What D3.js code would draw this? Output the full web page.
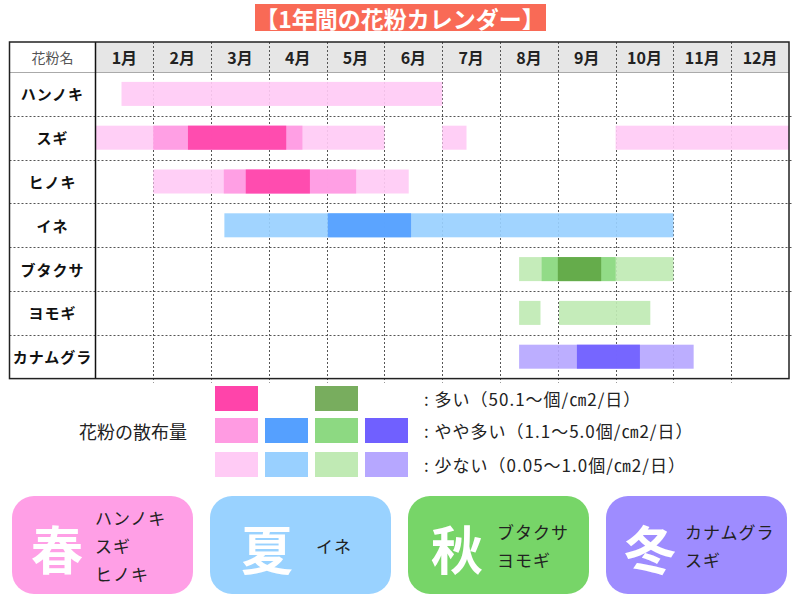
<!DOCTYPE html>
<html>
<head>
<meta charset="utf-8">
<script src="https://cdn.jsdelivr.net/npm/d3@7"></script>
<style>
  body { margin: 0; background: #fff; }
  svg { font-family: "Noto Sans CJK JP", "Noto Sans", sans-serif; }
</style>
</head>
<body>
<svg id="chart" width="800" height="600"></svg>
<script>
const months = ['1月', '2月', '3月', '4月', '5月', '6月', '7月', '8月', '9月', '10月', '11月', '12月'];
const plants = ['ハンノキ', 'スギ', 'ヒノキ', 'イネ', 'ブタクサ', 'ヨモギ', 'カナムグラ'];
const plantFamily = ['pink', 'pink', 'pink', 'blue', 'green', 'green', 'purple'];

// periods in months from Jan 1 (0) to Dec 31 (12): [plant, start, end]
const lowPeriods = [
  ['ハンノキ', 0.45, 6.0],
  ['スギ', 0, 5.0], ['スギ', 6.0, 6.42], ['スギ', 9.0, 12],
  ['ヒノキ', 1.0, 5.42],
  ['イネ', 2.23, 10.0],
  ['ブタクサ', 7.33, 10.0],
  ['ヨモギ', 7.33, 7.7], ['ヨモギ', 8.02, 9.6],
  ['カナムグラ', 7.33, 10.35]
];
const midPeriods = [
  ['スギ', 1.0, 3.58],
  ['ヒノキ', 2.22, 4.51],
  ['イネ', 4.02, 5.46],
  ['ブタクサ', 7.72, 9.0],
  ['カナムグラ', 8.33, 9.42]
];
const highPeriods = [
  ['スギ', 1.6, 3.3],
  ['ヒノキ', 2.6, 3.71],
  ['ブタクサ', 8.0, 8.75]
];

const levelNames = ['low', 'mid', 'high'];
const legendLabels = {
  high: ': 多い（50.1～個/㎝2/日）',
  mid: ': やや多い（1.1～5.0個/㎝2/日）',
  low: ': 少ない（0.05～1.0個/㎝2/日）'
};

const palette = {
  pink: { low: '#FFCBF5', mid: '#FF9BE2', high: '#FF44AA' },
  blue: { low: '#99D0FF', mid: '#55A0FF' },
  green: { low: '#C0EAB4', mid: '#8DD982', high: '#62A845' },
  purple: { low: '#B6A7FF', mid: '#7060FF' }
};
const families = ['pink', 'blue', 'green', 'purple'];

const seasons = ['春', '夏', '秋', '冬'];
const seasonPlants = [['ハンノキ', 'スギ', 'ヒノキ'], ['イネ'], ['ブタクサ', 'ヨモギ'], ['カナムグラ', 'スギ']];
const seasonColors = ['#FF9FE6', '#99D2FF', '#77D568', '#9E8CFF'];

const svg = d3.select('#chart');

// table geometry
const tLeft = 9.5, nameRight = 95.5, tRight = 789, tTop = 42, headerBottom = 72, tBottom = 378.6;
const barH = 24;

const x = d3.scaleLinear().domain([0, 12]).range([nameRight, tRight]);
const y = d3.scaleBand().domain(plants).range([headerBottom, tBottom]);

// Title
const title = svg.append('g');
title.append('rect')
  .attr('x', 255).attr('y', 4).attr('width', 291).attr('height', 27)
  .attr('fill', '#F96A56');
title.append('text')
  .attr('x', 400).attr('y', 18)
  .attr('text-anchor', 'middle').attr('dominant-baseline', 'central')
  .attr('fill', '#fff').attr('font-size', 23).attr('font-weight', 'bold')
  .text('【1年間の花粉カレンダー】');

// header background
svg.append('rect')
  .attr('x', nameRight).attr('y', tTop).attr('width', tRight - nameRight).attr('height', headerBottom - tTop)
  .attr('fill', '#E6E6E6');

// grid
const grid = svg.append('g')
  .attr('stroke', '#555').attr('stroke-width', 1).attr('stroke-dasharray', '2,2');
grid.selectAll('line.v')
  .data(d3.range(1, 12))
  .join('line')
  .attr('class', 'v')
  .attr('x1', d => Math.round(x(d)) + 0.5).attr('x2', d => Math.round(x(d)) + 0.5)
  .attr('y1', tTop).attr('y2', tBottom + 4);
grid.selectAll('line.h')
  .data(plants.slice(1))
  .join('line')
  .attr('class', 'h')
  .attr('x1', tLeft).attr('x2', tRight + 4)
  .attr('y1', d => Math.round(y(d)) + 0.5).attr('y2', d => Math.round(y(d)) + 0.5);

// bars
const barGroup = svg.append('g').attr('fill-opacity', 0.92);
function drawLevel(periods, level) {
  barGroup.selectAll('rect.' + level)
    .data(periods)
    .join('rect')
    .attr('class', level)
    .attr('x', d => x(d[1]))
    .attr('width', d => x(d[2]) - x(d[1]))
    .attr('y', d => y(d[0]) + (y.bandwidth() - barH) / 2)
    .attr('height', barH)
    .attr('fill', d => palette[plantFamily[plants.indexOf(d[0])]][level]);
}
drawLevel(lowPeriods, 'low');
drawLevel(midPeriods, 'mid');
drawLevel(highPeriods, 'high');

// header bottom line, borders
svg.append('line')
  .attr('x1', tLeft).attr('x2', tRight).attr('y1', headerBottom + 0.5).attr('y2', headerBottom + 0.5)
  .attr('stroke', '#aaa').attr('stroke-width', 1);
svg.append('line')
  .attr('x1', nameRight).attr('x2', nameRight).attr('y1', tTop).attr('y2', tBottom)
  .attr('stroke', '#111').attr('stroke-width', 1.5);
svg.append('rect')
  .attr('x', tLeft).attr('y', tTop).attr('width', tRight - tLeft).attr('height', tBottom - tTop)
  .attr('fill', 'none').attr('stroke', '#222').attr('stroke-width', 1.5);

// header labels
svg.append('text')
  .attr('x', (tLeft + nameRight) / 2).attr('y', (tTop + headerBottom) / 2)
  .attr('text-anchor', 'middle').attr('dominant-baseline', 'central')
  .attr('font-size', 14).attr('fill', '#555')
  .text('花粉名');
svg.append('g').selectAll('text')
  .data(months)
  .join('text')
  .attr('x', (d, i) => x(i + 0.5)).attr('y', (tTop + headerBottom) / 2)
  .attr('text-anchor', 'middle').attr('dominant-baseline', 'central')
  .attr('font-size', 16).attr('font-weight', 'bold').attr('fill', '#222')
  .text(d => d);

// row labels
svg.append('g').selectAll('text')
  .data(plants)
  .join('text')
  .attr('x', (tLeft + nameRight) / 2).attr('y', d => y(d) + y.bandwidth() / 2)
  .attr('text-anchor', 'middle').attr('dominant-baseline', 'central')
  .attr('font-size', 15).attr('font-weight', 'bold').attr('fill', '#111')
  .attr('letter-spacing', 1)
  .text(d => d);

// legend
const legend = svg.append('g');
const swW = 43, swH = 25, swStep = 50, swX = 215;
const rowY = { high: 386, mid: 418, low: 452 };
legend.append('text')
  .attr('x', 133).attr('y', 431)
  .attr('text-anchor', 'middle').attr('dominant-baseline', 'central')
  .attr('font-size', 18).attr('fill', '#222')
  .text('花粉の散布量');
levelNames.forEach(level => {
  families.forEach((f, i) => {
    if (!palette[f][level]) return;
    legend.append('rect')
      .attr('x', swX + i * swStep).attr('y', rowY[level])
      .attr('width', swW).attr('height', swH)
      .attr('fill', level === 'high' && f === 'green' ? '#78AD5E' : palette[f][level]);
  });
  legend.append('text')
    .attr('x', 424).attr('y', rowY[level] + swH / 2)
    .attr('dominant-baseline', 'central')
    .attr('font-size', 17).attr('letter-spacing', 1).attr('fill', '#222')
    .text(legendLabels[level]);
});

// season cards
const cardW = 181, cardH = 98, cardY = 496, cardStep = 198, cardX = 12;
const bigOffset = [45, 57, 49, 44];
const nameOffset = [83, 106, 89, 79];
const cards = svg.append('g').selectAll('g')
  .data(seasons)
  .join('g')
  .attr('transform', (d, i) => `translate(${cardX + i * cardStep},${cardY})`);
cards.append('rect')
  .attr('width', cardW).attr('height', cardH).attr('rx', 22)
  .attr('fill', (d, i) => seasonColors[i]);
cards.append('text')
  .attr('x', (d, i) => bigOffset[i]).attr('y', cardH / 2 + 2)
  .attr('text-anchor', 'middle').attr('dominant-baseline', 'central')
  .attr('font-size', 52).attr('font-weight', 'bold').attr('fill', '#fff')
  .text(d => d);
cards.each(function(d, i) {
  const names = seasonPlants[i];
  const lineH = 28;
  const y0 = cardH / 2 - (names.length - 1) * lineH / 2;
  d3.select(this).selectAll('text.name')
    .data(names)
    .join('text')
    .attr('class', 'name')
    .attr('x', nameOffset[i]).attr('y', (n, j) => y0 + j * lineH)
    .attr('dominant-baseline', 'central')
    .attr('font-size', 17).attr('letter-spacing', 1).attr('fill', '#222')
    .text(n => n);
});
</script>
</body>
</html>
